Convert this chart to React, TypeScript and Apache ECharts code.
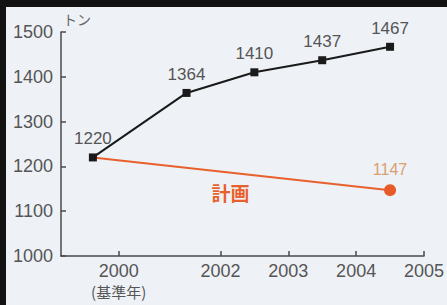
import React, { useEffect, useRef } from "react";
import * as echarts from "echarts";

const actualX = [2000.12, 2001.5, 2002.5, 2003.5, 2004.5];
const actualValues = [1220, 1364, 1410, 1437, 1467];
// Plan line
const planX = [2000.12, 2004.5];
const planValues = [1220, 1147];
// x-axis ticks
const tickPositions = [2000.5, 2002, 2003, 2004, 2005];
const tickLabels = ["2000", "2002", "2003", "2004", "2005"];
const baseYearPos = [2000.5];
const baseYearNote = "(基準年)";
// annotation
const planLabelPos = [2002.15, 1141];
const planLabelText = "計画";
const unitText = "トン";

const SANS = "'Liberation Sans', Arial, sans-serif";
const CJK = "'Noto Sans CJK JP', sans-serif";
const X_MIN = 1999.65;
const X_MAX = 2005;

export default function App() {
  const ref = useRef<HTMLDivElement>(null);
  useEffect(() => {
    if (!ref.current) return;
    const chart = echarts.init(ref.current, undefined, { renderer: "svg" });
    const option: any = {
      animation: false,
      backgroundColor: "#eef1f6",
      graphic: [
        { type: "rect", shape: { x: 0, y: 0, width: 447, height: 7 }, style: { fill: "#121212" }, z: 100 },
        { type: "rect", shape: { x: 0, y: 0, width: 6, height: 305 }, style: { fill: "#121212" }, z: 100 },
      ],
      grid: { left: 61, right: 22, top: 32, bottom: 49 },
      xAxis: [
        {
          type: "value",
          min: X_MIN,
          max: X_MAX,
          splitLine: { show: false },
          axisLine: { show: true, lineStyle: { color: "#4a4a4a", width: 1.5 } },
          axisTick: {
            show: true,
            inside: true,
            length: 5,
            customValues: tickPositions,
            lineStyle: { color: "#4a4a4a", width: 1.5 },
          },
          axisLabel: {
            customValues: tickPositions,
            margin: 6,
            color: "#555",
            fontFamily: SANS,
            fontSize: 18,
            formatter: (v: number) => {
              let best = 0;
              for (let i = 0; i < tickPositions.length; i++) {
                if (Math.abs(tickPositions[i] - v) < Math.abs(tickPositions[best] - v)) best = i;
              }
              return tickLabels[best];
            },
          },
        },
        {
          type: "value",
          position: "bottom",
          min: X_MIN,
          max: X_MAX,
          splitLine: { show: false },
          axisLine: { show: false },
          axisTick: { show: false },
          axisLabel: {
            customValues: baseYearPos,
            margin: 28,
            color: "#555",
            fontFamily: CJK,
            fontSize: 15,
            formatter: () => baseYearNote,
          },
        },
      ],
      yAxis: {
        type: "value",
        min: 1000,
        max: 1500,
        interval: 100,
        name: unitText,
        nameLocation: "end",
        nameGap: 6,
        nameTextStyle: {
          color: "#666",
          fontSize: 14,
          align: "left",
          padding: [0, 0, 0, 2],
          fontFamily: CJK,
        },
        splitLine: { show: false },
        axisLine: { show: true, lineStyle: { color: "#4a4a4a", width: 1.5 } },
        axisTick: { show: true, inside: true, length: 5, lineStyle: { color: "#4a4a4a", width: 1.5 } },
        axisLabel: {
          color: "#555",
          fontFamily: SANS,
          fontSize: 18,
          margin: 8,
          formatter: (v: number) => String(v),
        },
      },
      series: [
        {
          type: "line",
          data: planX.map((x, i) =>
            i === 0
              ? { value: [x, planValues[i]], symbol: "none", label: { show: false } }
              : { value: [x, planValues[i]] }
          ),
          symbol: "circle",
          symbolSize: 12,
          itemStyle: { color: "#e85a28" },
          lineStyle: { color: "#e8602c", width: 2 },
          label: {
            show: true,
            position: "top",
            distance: 7,
            color: "#d9a070",
            fontFamily: SANS,
            fontSize: 16,
            formatter: (p: any) => String(p.value[1]),
          },
          markPoint: {
            symbol: "circle",
            symbolSize: 0,
            data: [{ coord: planLabelPos, value: planLabelText }],
            label: {
              show: true,
              position: "inside",
              formatter: planLabelText,
              color: "#e8602c",
              fontSize: 19,
              fontWeight: "bold",
              fontFamily: CJK,
            },
          },
          z: 2,
        },
        {
          type: "line",
          data: actualX.map((x, i) => [x, actualValues[i]]),
          symbol: "rect",
          symbolSize: 8,
          itemStyle: { color: "#1a1a1a" },
          lineStyle: { color: "#1a1a1a", width: 2 },
          label: {
            show: true,
            position: "top",
            distance: 6,
            color: "#555",
            fontFamily: SANS,
            fontSize: 17,
            formatter: (p: any) => String(p.value[1]),
          },
          z: 3,
        },
      ],
    };
    chart.setOption(option);
    return () => chart.dispose();
  }, []);
  return (
    <div
      ref={ref}
      style={{ position: "absolute", left: 0, top: 0, width: 447, height: 305 }}
    />
  );
}
